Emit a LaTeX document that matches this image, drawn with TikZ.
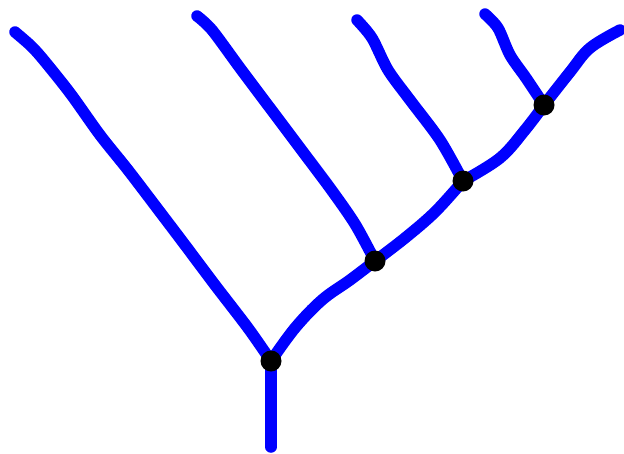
\documentclass[tikz,border=0pt]{standalone}
\begin{document}
\begin{tikzpicture}[x=1pt,y=-1pt,
  branch/.style={draw=blue,line width=11.5pt,line cap=round,line join=round},
  joint/.style={circle,fill=black,inner sep=0pt,minimum size=21pt}]
\useasboundingbox (0,0) rectangle (624,453);
\coordinate (r) at (271,447);
\coordinate (l1) at (15,32);
\coordinate (l2) at (197,16);
\coordinate (l3) at (357,20);
\coordinate (l4) at (485,14);
\coordinate (l5) at (620,30);
\coordinate (n1) at (271,361);
\coordinate (n2) at (375,261);
\coordinate (n3) at (463,181);
\coordinate (n4) at (544,105);
\draw[branch] (r) -- (271,400) -- (n1);
\draw[branch] plot[smooth,tension=0.5] coordinates {(l1) (30,45) (42,58) (70,93) (100,135) (128,170) (160,212) (185,245) (215,285) (248,328) (n1)};
\draw[branch] plot[smooth,tension=0.6] coordinates {(n1) (295,328) (322,300) (350,280) (n2)};
\draw[branch] plot[smooth,tension=0.5] coordinates {(l2) (212,30) (240,68) (270,108) (300,148) (330,188) (355,224) (n2)};
\draw[branch] plot[smooth,tension=0.6] coordinates {(n2) (405,238) (435,212) (n3)};
\draw[branch] plot[smooth,tension=0.5] coordinates {(l3) (372,38) (388,70) (410,100) (440,140) (n3)};
\draw[branch] plot[smooth,tension=0.6] coordinates {(n3) (500,158) (525,130) (n4)};
\draw[branch] plot[smooth,tension=0.5] coordinates {(l4) (498,28) (510,55) (526,78) (n4)};
\draw[branch] plot[smooth,tension=0.6] coordinates {(n4) (570,72) (590,48) (l5)};
\node[joint] (d1) at (n1) {};
\node[joint] (d2) at (n2) {};
\node[joint] (d3) at (n3) {};
\node[joint] (d4) at (n4) {};
\end{tikzpicture}
\end{document}
